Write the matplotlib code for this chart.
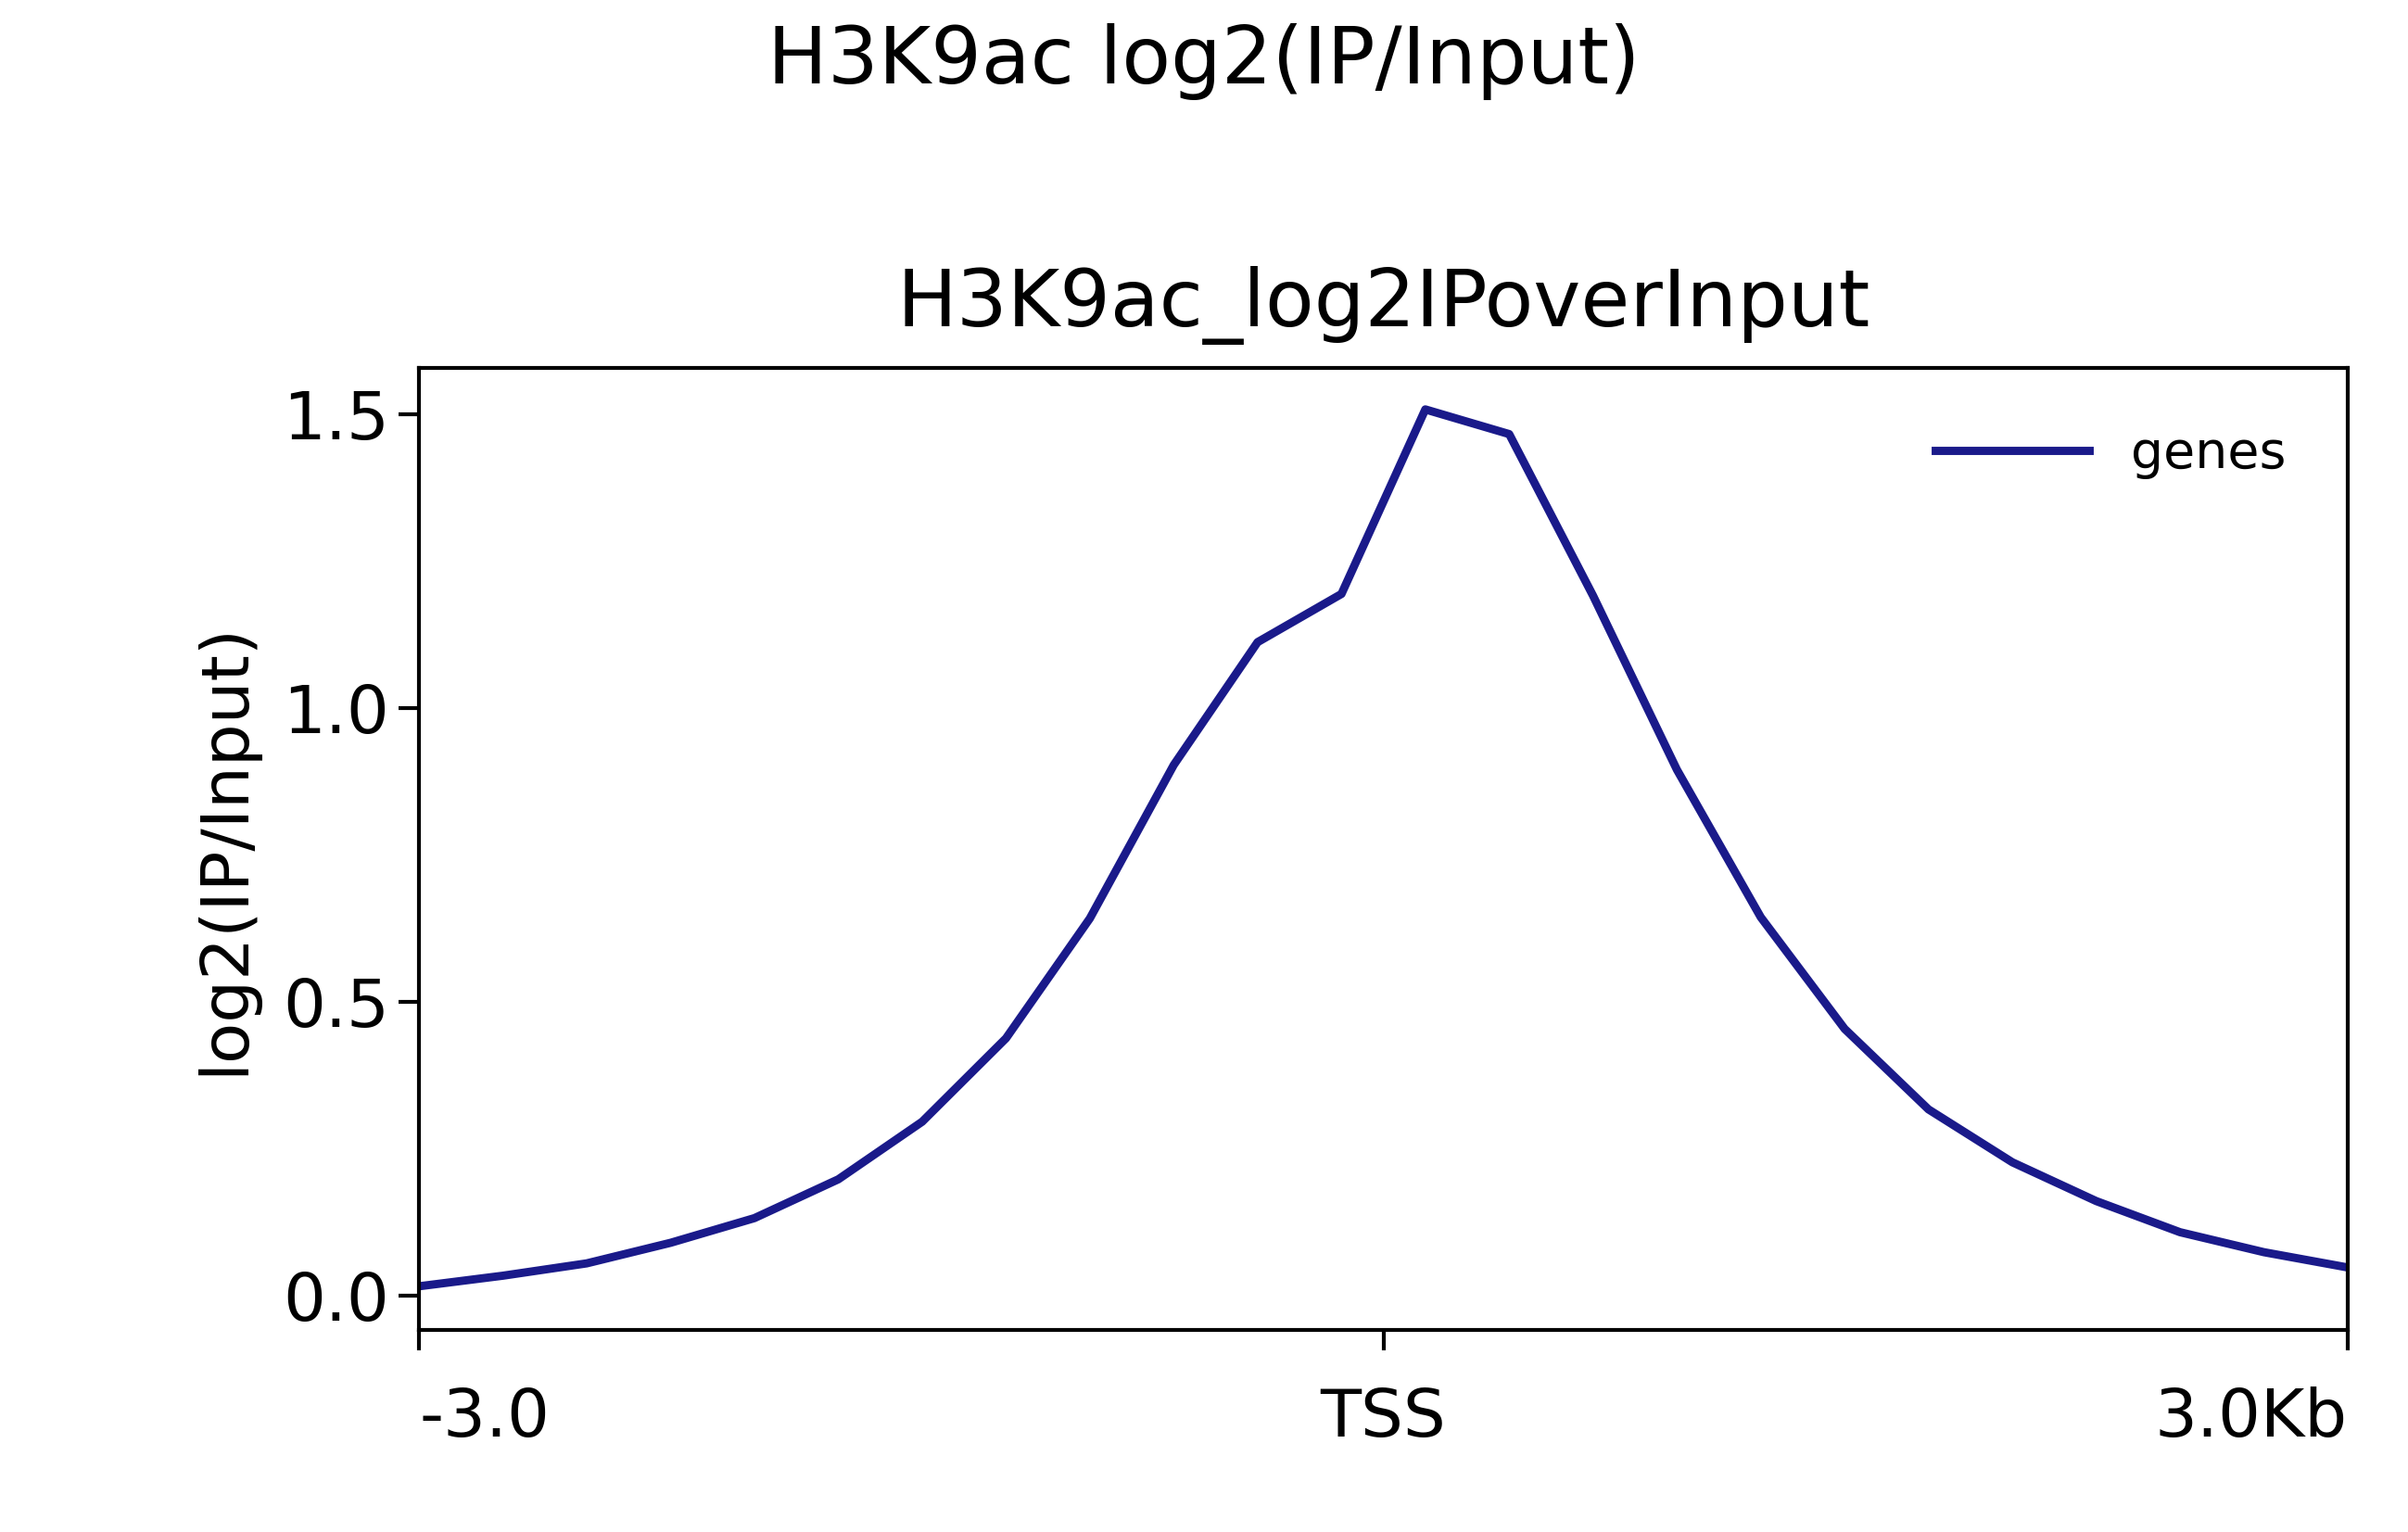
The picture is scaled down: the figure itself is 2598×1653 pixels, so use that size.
import matplotlib
matplotlib.use("Agg")
import matplotlib.pyplot as plt
import numpy as np

# profile values, 24 bins of 250 bp spanning -3 kb .. +3 kb
bins = np.arange(24)
genes = [0.016, 0.034, 0.055, 0.090, 0.132, 0.198, 0.296, 0.438, 0.642, 0.903,
         1.112, 1.194, 1.508, 1.466, 1.191, 0.895, 0.644, 0.454, 0.317, 0.227,
         0.161, 0.108, 0.074, 0.048]
tick_pos = [0, 11.5, 23]
tick_labels = ["-3.0", "TSS", "3.0Kb"]

fig = plt.figure(figsize=(12.99, 8.265), dpi=200)
ax = fig.add_axes([0.174, 0.132, 0.801, 0.628])

ax.plot(bins, genes, color="#1a1a8a", linewidth=3.2, label="genes")

fig.suptitle("H3K9ac log2(IP/Input)", fontsize=31, y=0.985)
ax.set_title("H3K9ac_log2IPoverInput", fontsize=31, pad=16)
ax.set_ylabel("log2(IP/Input)", fontsize=26, labelpad=10)
ax.set_xlim(0, 23)
ax.set_ylim(-0.058, 1.579)
ax.set_yticks([0.0, 0.5, 1.0, 1.5])
ax.set_xticks(tick_pos)
ax.set_xticklabels(tick_labels)
ax.get_xticklabels()[0].set_horizontalalignment("left")
ax.get_xticklabels()[-1].set_horizontalalignment("right")
ax.tick_params(labelsize=26, width=1.5, length=8)
ax.tick_params(axis="x", pad=14)
for s in ax.spines.values():
    s.set_linewidth(1.5)

ax.legend(loc="upper right", frameon=False, fontsize=20, handlelength=3,
          borderaxespad=0.8)

fig.savefig("out.png", dpi=200)
